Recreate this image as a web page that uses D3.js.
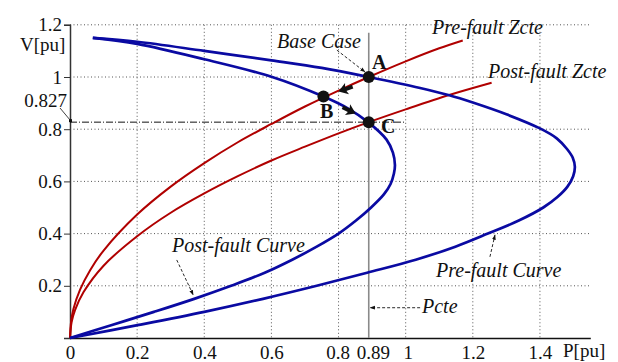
<!DOCTYPE html>
<html>
<head>
<meta charset="utf-8">
<script src="https://cdn.jsdelivr.net/npm/d3@7"></script>
<style>
html,body{margin:0;padding:0;background:#fff;}
svg{display:block;}
</style>
</head>
<body>
<svg id="chart" width="618" height="362"></svg>
<script>
// ---- data (P in pu, V in pu) ----
const preCurveP = [0.068,0.2,0.4,0.6,0.75,0.89,1.043,1.13,1.2,1.3,1.4,1.45,1.48,1.498,1.504,1.499,1.482,1.452,1.41,1.337,1.245,1.148,1.03,0.885,0.735,0.575,0.40,0.205,0.0];
const preCurveV = [1.150,1.135,1.100,1.064,1.035,1.000,0.958,0.930,0.902,0.857,0.803,0.765,0.725,0.69,0.656,0.62,0.58,0.54,0.50,0.45,0.40,0.35,0.30,0.25,0.20,0.15,0.10,0.05,0.0];
const postCurveP = [0.068,0.2,0.4,0.6,0.755,0.83,0.889,0.943,0.962,0.968,0.965,0.955,0.935,0.897,0.852,0.800,0.735,0.662,0.580,0.480,0.370,0.250,0.125,0.0];
const postCurveV = [1.150,1.127,1.068,1.001,0.925,0.878,0.826,0.760,0.710,0.663,0.63,0.59,0.55,0.50,0.45,0.40,0.35,0.30,0.25,0.20,0.15,0.10,0.05,0.0];
const preZP = [0,0.003,0.01,0.03,0.06,0.1,0.2,0.3,0.4,0.5,0.6,0.7,0.8,0.89,1.0,1.1,1.17];
const preZV = [0,0.06,0.11,0.185,0.26,0.335,0.473,0.58,0.67,0.75,0.82,0.887,0.948,1.0,1.06,1.11,1.14];
const postZP = [0,0.005,0.015,0.04,0.1,0.2,0.3,0.4,0.5,0.6,0.7,0.8,0.89,1.0,1.132,1.256];
const postZV = [0,0.062,0.107,0.175,0.277,0.39,0.48,0.554,0.62,0.68,0.733,0.784,0.827,0.876,0.932,0.978];
const pointNames = ["A","B","C"];
const pointP = [0.89,0.755,0.89];
const pointV = [1.0,0.925,0.827];
const xTickValues = [0,0.2,0.4,0.6,0.8,0.89,1,1.2,1.4];
const xTickLabels = ["0","0.2","0.4","0.6","0.8","0.89","1","1.2","1.4"];
const yTickValues = [0.2,0.4,0.6,0.8,1,1.2];
const yTickLabels = ["0.2","0.4","0.6","0.8","1","1.2"];
const xGrid = [0.2,0.4,0.6,0.8,1,1.2,1.4];
const yGrid = [0.2,0.4,0.6,0.8,1,1.2];
const Pcte = 0.89;
const Vmark = 0.827;

// ---- scales ----
const FONT = "'Liberation Serif', 'Times New Roman', 'DejaVu Serif', serif";
const x = d3.scaleLinear().domain([0,1.55]).range([70,590.3]);
const y = d3.scaleLinear().domain([0,1.2]).range([338,24.8]);
const svg = d3.select("#chart");
const BLUE = "#0a0aa2", RED = "#b00000";

const defs = svg.append("defs");
defs.append("marker").attr("id","ah").attr("viewBox","0 0 10 10").attr("refX",9).attr("refY",5)
  .attr("markerWidth",6).attr("markerHeight",6).attr("orient","auto")
  .append("path").attr("d","M0,1.5 L10,5 L0,8.5 z").attr("fill","#111");

// grid
svg.append("g").selectAll("line").data(xGrid).join("line")
  .attr("x1",d=>x(d)).attr("x2",d=>x(d)).attr("y1",y(1.2)).attr("y2",y(0))
  .attr("stroke","#555").attr("stroke-width",1).attr("stroke-dasharray","1,2.5");
svg.append("g").selectAll("line").data(yGrid).join("line")
  .attr("x1",x(0)).attr("x2",x(1.55)).attr("y1",d=>y(d)).attr("y2",d=>y(d))
  .attr("stroke","#555").attr("stroke-width",1).attr("stroke-dasharray","1,2.5");

// axes
const xAxis = d3.axisBottom(x).tickValues(xTickValues).tickFormat((d,i)=>xTickLabels[i]).tickSize(0).tickPadding(8);
const gx = svg.append("g").attr("transform",`translate(0,${y(0)})`).call(xAxis);
gx.select(".domain").attr("stroke","#111").attr("stroke-width",1.5);
gx.selectAll("text").style("font-family",FONT).style("font-size","19px").attr("fill","#111")
  .attr("dx",(d)=> d===0.89 ? 4 : (d===0.8 ? -1 : (d===1 ? 2 : 0)));
const yAxis = d3.axisLeft(y).tickValues(yTickValues).tickFormat((d,i)=>yTickLabels[i]).tickSize(6).tickPadding(2);
const gy = svg.append("g").attr("transform",`translate(${x(0)},0)`).call(yAxis);
gy.select(".domain").attr("stroke","#333").attr("stroke-width",1.5);
gy.selectAll("line").attr("stroke","#333");
gy.selectAll("text").style("font-family",FONT).style("font-size","19px").attr("fill","#111");

const txt = (sel)=>sel.style("font-family",FONT).attr("fill","#111");
txt(svg.append("text").attr("x",20).attr("y",51).style("font-size","19px").text("V[pu]"));
txt(svg.append("text").attr("x",563).attr("y",357).style("font-size","19px").text("P[pu]"));

// 0.827 marker
txt(svg.append("text").attr("x",67).attr("y",107).attr("text-anchor","end").style("font-size","19px").text("0.827"));
svg.append("line").attr("x1",60).attr("y1",108).attr("x2",x(0)+1).attr("y2",y(Vmark)-1).attr("stroke","#111").attr("stroke-width",0.8);
svg.append("rect").attr("x",x(0)-1).attr("y",y(Vmark)-3).attr("width",3).attr("height",3).attr("fill","#111");
svg.append("line").attr("x1",x(0)).attr("x2",x(1.0)).attr("y1",y(Vmark)).attr("y2",y(Vmark))
  .attr("stroke","#111").attr("stroke-width",1).attr("stroke-dasharray","7,2,1,2");

// Pcte line
svg.append("line").attr("x1",x(Pcte)).attr("x2",x(Pcte)).attr("y1",y(1.17)).attr("y2",y(0))
  .attr("stroke","#8a8a8a").attr("stroke-width",1.6);

// curves
const line = d3.line().x(d=>x(d[0])).y(d=>y(d[1])).curve(d3.curveCatmullRom.alpha(0.5));
const zip = (a,b)=>a.map((v,i)=>[v,b[i]]);
svg.append("path").attr("d",line(zip(preZP,preZV))).attr("fill","none").attr("stroke",RED).attr("stroke-width",2);
svg.append("path").attr("d",line(zip(postZP,postZV))).attr("fill","none").attr("stroke",RED).attr("stroke-width",2);
svg.append("path").attr("d",line(zip(postCurveP,postCurveV))).attr("fill","none").attr("stroke",BLUE).attr("stroke-width",2.7);
svg.append("path").attr("d",line(zip(preCurveP,preCurveV))).attr("fill","none").attr("stroke",BLUE).attr("stroke-width",2.7);

// points
svg.append("g").selectAll("circle").data(pointP).join("circle")
  .attr("cx",d=>x(d)).attr("cy",(d,i)=>y(pointV[i])).attr("r",6).attr("fill","#111");

// move arrows (A->B, B->C)
const moveArrows = [[[0.842,0.963],[0.800,0.944]],[[0.812,0.884],[0.851,0.860]]];
moveArrows.forEach(a=>{
  const x1=x(a[0][0]), y1=y(a[0][1]), x2=x(a[1][0]), y2=y(a[1][1]);
  const ang = Math.atan2(y2-y1,x2-x1)*180/Math.PI;
  const len = Math.hypot(x2-x1,y2-y1);
  const g = svg.append("g").attr("transform",`translate(${x1},${y1}) rotate(${ang})`);
  g.append("line").attr("x1",0).attr("y1",0).attr("x2",len-6).attr("y2",0).attr("stroke","#111").attr("stroke-width",4);
  g.append("path").attr("d",`M${len},0 L${len-9},-6 L${len-7},0 L${len-9},6 Z`).attr("fill","#111");
});

// point labels
const labelPos = [[372,69],[320,118],[381,133]];
svg.append("g").selectAll("text").data(pointNames).join("text")
  .attr("x",(d,i)=>labelPos[i][0]).attr("y",(d,i)=>labelPos[i][1])
  .style("font-family",FONT).style("font-size","20px").style("font-weight","bold").attr("fill","#111").text(d=>d);

// annotation labels
const annText = ["Base Case","Pre-fault Zcte","Post-fault Zcte","Post-fault Curve","Pre-fault Curve","Pcte"];
const annX = [277,432,488,172,436,422];
const annY = [48,34,78,252,277,313];
svg.append("g").selectAll("text").data(annText).join("text")
  .attr("x",(d,i)=>annX[i]).attr("y",(d,i)=>annY[i])
  .style("font-family",FONT).style("font-size","20px").style("font-style","italic").attr("fill","#111").text(d=>d);

// dashed leader arrows [from P,V] -> [to P,V]
const leaders = [[[0.795,1.103],[0.879,1.019]],[[0.318,0.299],[0.367,0.165]],[[1.251,0.311],[1.266,0.395]],[[1.043,0.116],[0.894,0.116]]];
svg.append("g").selectAll("line").data(leaders).join("line")
  .attr("x1",d=>x(d[0][0])).attr("y1",d=>y(d[0][1])).attr("x2",d=>x(d[1][0])).attr("y2",d=>y(d[1][1]))
  .attr("stroke","#111").attr("stroke-width",0.9).attr("stroke-dasharray","3,2").attr("marker-end","url(#ah)");
</script>
</body>
</html>
